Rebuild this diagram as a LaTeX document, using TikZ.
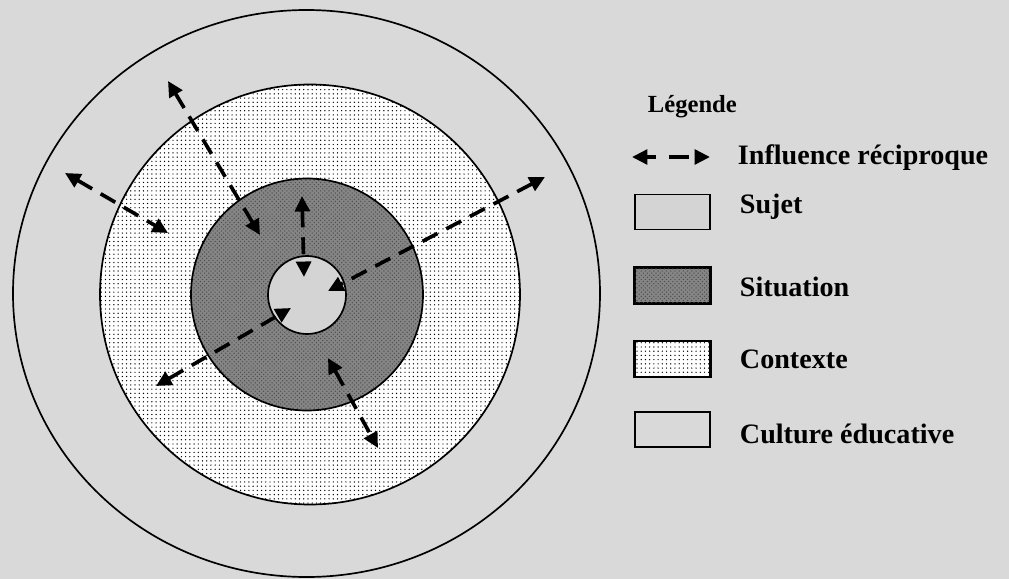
\documentclass[tikz,border=0pt]{standalone}
\usepackage{fontspec}
\setmainfont{Liberation Serif}
\usetikzlibrary{arrows.meta,patterns}
\definecolor{bggray}{HTML}{D9D9D9}
\definecolor{sujetgray}{HTML}{D4D4D4}
\definecolor{situgray}{HTML}{858585}

\begin{document}
\begin{tikzpicture}[x=0.025cm,y=-0.025cm,
	ring/.style={draw=black,line width=1.2pt},
	influence/.style={line width=2.6pt,dash pattern=on 12pt off 7pt,
		{Triangle[length=11pt,width=10.5pt]}-{Triangle[length=11pt,width=10.5pt]}},
	keybox/.style={draw=black,line width=1.2pt,minimum width=1.875cm,minimum height=0.875cm,inner sep=0pt},
	keytext/.style={anchor=base west,font=\bfseries\fontsize{20}{24}\selectfont}]
	\useasboundingbox (0,0) rectangle (1009,579);
	\fill[bggray] (0,0) rectangle (1009,579);
	% rings, outer to inner
	\draw[ring] (306.5,293.5) ellipse [x radius=293.5,y radius=283.5];
	\fill[white] (310,294.5) circle [radius=210];
	\fill[pattern=dots] (310,294.5) circle [radius=210];
	\draw[ring] (310,294.5) circle [radius=210];
	\fill[situgray] (307,294.5) circle [radius=116];
	\fill[pattern=crosshatch dots,pattern color=black!70] (307,294.5) circle [radius=116];
	\draw[ring] (307,294.5) circle [radius=116];
	\draw[ring,fill=sujetgray] (307,295) circle [radius=39];
	% arrow ends
	\coordinate (a1) at (168,81);  \coordinate (b1) at (260,235);
	\coordinate (a2) at (65,173);  \coordinate (b2) at (168,233);
	\coordinate (a3) at (302,196); \coordinate (b3) at (304,277);
	\coordinate (a4) at (545,177); \coordinate (b4) at (328,291);
	\coordinate (a5) at (156,386); \coordinate (b5) at (291,308);
	\coordinate (a6) at (328,358); \coordinate (b6) at (378,448);
	\foreach \i in {1,...,6}
		\draw[influence] (a\i) -- (b\i);
	% legend
	\node (titre) at (643,112) [anchor=base west,font=\bfseries\fontsize{17.5}{20}\selectfont] {Légende};
	\coordinate (la) at (632,157); \coordinate (lb) at (710,157);
	\draw[influence,dash pattern=on 7pt off 9pt on 14pt off 20pt] (la) -- (lb);
	\node (infl) at (733,164) [keytext] {Influence réciproque};
	\node (ksujet) at (672.5,212) [keybox,fill=sujetgray] {};
	\node (tsujet) at (735,213) [keytext] {Sujet};
	\node (ksitu) at (672.5,285.5) [keybox,fill=situgray] {};
	\fill[pattern=crosshatch dots,pattern color=black!70] (ksitu.south west) rectangle (ksitu.north east);
	\draw[line width=1.2pt] (ksitu.south west) rectangle (ksitu.north east);
	\node (tsitu) at (735,296) [keytext] {Situation};
	\node (kcont) at (672.5,359) [keybox,fill=white] {};
	\fill[pattern=dots] (kcont.south west) rectangle (kcont.north east);
	\draw[line width=1.2pt] (kcont.south west) rectangle (kcont.north east);
	\node (tcont) at (735,368) [keytext] {Contexte};
	\node (kcult) at (672.5,429.5) [keybox,fill=bggray] {};
	\node (tcult) at (735,443) [keytext] {Culture éducative};
\end{tikzpicture}
\end{document}
